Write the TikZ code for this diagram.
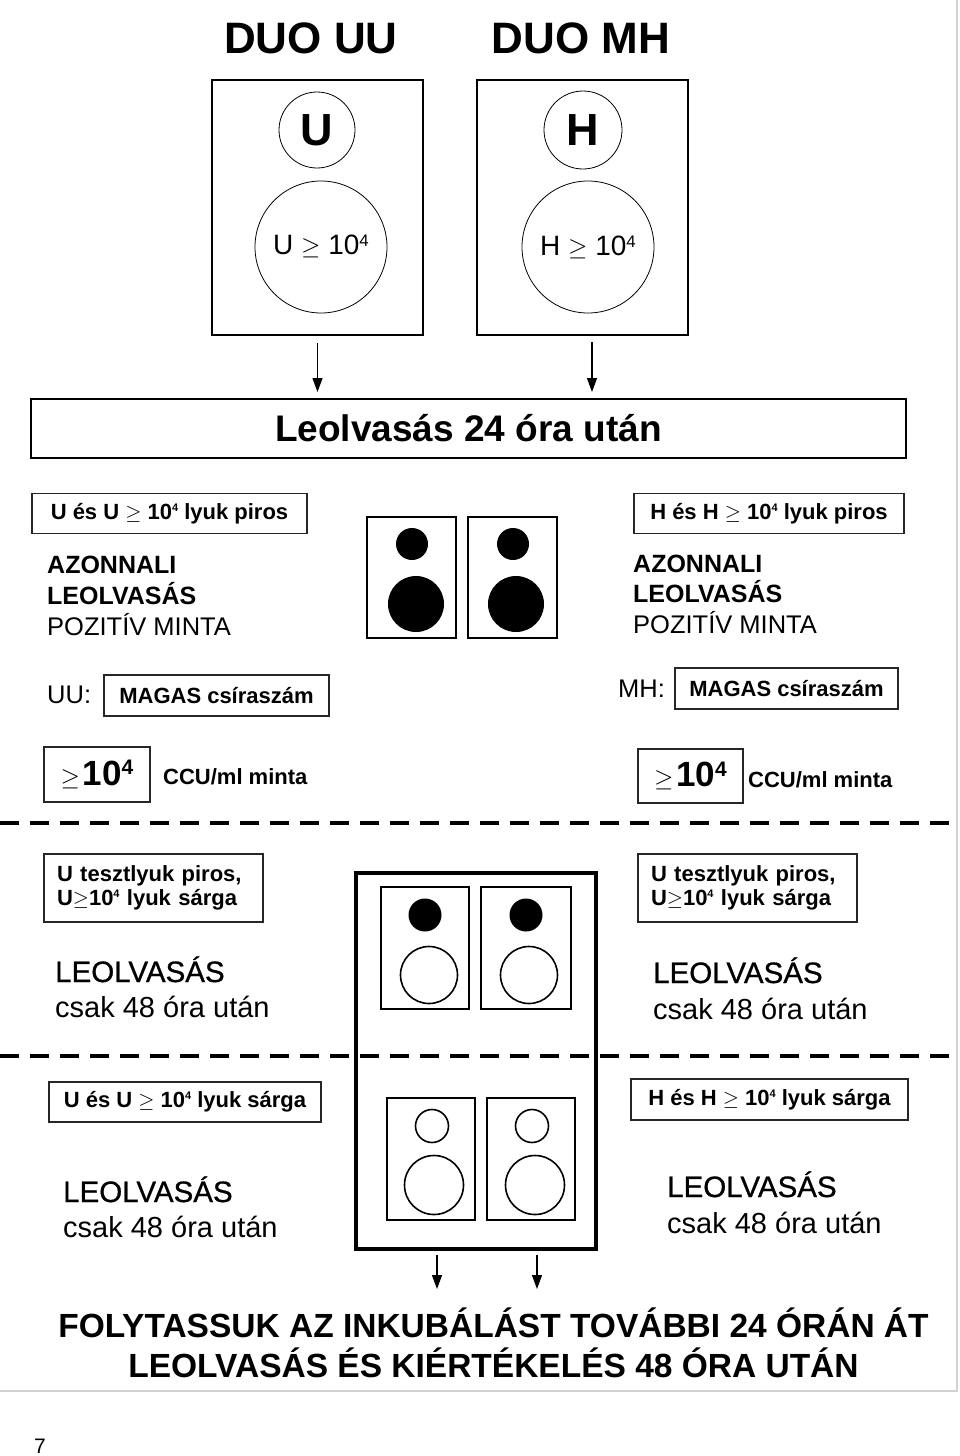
\documentclass[tikz,border=0pt]{standalone}
\usepackage{fontspec}
\setmainfont{Liberation Sans}
\newfontfamily\leofont[FakeBold=0.8]{Liberation Sans}
\usepackage{graphicx}
\usetikzlibrary{arrows.meta}
\newcommand{\fsz}[2]{\fontsize{#1}{#2}\selectfont}
\newcommand{\sps}[1]{\raisebox{0.36em}{\scalebox{0.5}{#1}}}
\newcommand{\spm}[1]{\raisebox{0.29em}{\scalebox{0.6}{#1}}}
\begin{document}
\begin{tikzpicture}[x=1pt,y=-1pt,
  txt/.style={inner sep=0pt, anchor=base west},
  lblbox/.style={draw=black!85, line width=1.3pt, inner sep=0pt, align=left, font=\bfseries\fsz{22}{24}},
  twobox/.style={draw=black!85, line width=1.3pt, inner xsep=13pt, inner ysep=0pt, text width=193pt, minimum height=68pt, align=left, font=\bfseries\fsz{22}{24}},
  topbox/.style={draw, line width=2pt, minimum width=211pt, minimum height=255pt, inner sep=0pt},
  spk/.style={draw, line width=2pt, minimum width=89pt, minimum height=121pt, inner sep=0pt},
  spkdot/.style={circle, fill=black, inner sep=0pt, minimum size=#1},
  spkring/.style={circle, draw, line width=1.6pt, inner sep=0pt, minimum size=#1},
  thinring/.style={circle, draw, line width=0.8pt, inner sep=0pt, minimum size=#1},
  arr/.style={line width=1.2pt, -{Triangle[length=14pt,width=10pt]}},
  dashline/.style={line width=4pt, dash pattern=on 19pt off 11pt},
  big/.style={font=\fsz{29}{29}},
  bigh/.style={font=\leofont\fsz{29.5}{29.5}},
  gebox/.style={draw=black!85, line width=1.3pt, inner sep=0pt},
]
\useasboundingbox (0,0) rectangle (960,1456);
% page frame
\draw[black!18, line width=2pt] (957,0) -- (957,1391) -- (0,1391);

% titles
\node[font=\bfseries\fsz{44}{44}, inner sep=0pt] (t1) at (311,38) {DUO UU};
\node[font=\bfseries\fsz{44}{44}, inner sep=0pt] (t2) at (581,38) {DUO MH};

% top boxes
\node[topbox] (box1) at (317.5,207.5) {};
\node[topbox] (box2) at (582.5,207.5) {};
\node[thinring=76pt, font=\bfseries\fsz{45}{45}] (cU) at (317,130) {U};
\node[thinring=132pt, font=\fsz{28}{28}] (cU2) at (321,247) {\raisebox{4pt}{U~$\geq$~10\spm{4}}};
\node[thinring=78pt, font=\bfseries\fsz{45}{45}] (cH) at (583,130) {H};
\node[thinring=132pt, font=\fsz{28}{28}] (cH2) at (588,247) {H~$\geq$~10\spm{4}};

% reading box
\node[draw, line width=2pt, minimum width=875pt, minimum height=59pt, inner sep=0pt, font=\bfseries\fsz{37}{37}] (read) at (468.5,428.5) {Leolvasás 24 óra után};
\coordinate (a2) at (592,335);
\draw[arr, shorten <=7pt, shorten >=6pt] (box1.south) -- (box1.south |- read.north);
\draw[arr, shorten <=7pt, shorten >=6pt] (a2) -- (a2 |- read.north);

% row 2 left
\node[lblbox, minimum width=275pt, minimum height=40pt] (lp) at (169.5,513.5) {U és U $\geq$ 10\sps{4} lyuk piros};
\node[txt, font=\bfseries\fsz{25}{25}] (la1) at (47,573) {AZONNALI};
\node[txt, font=\bfseries\fsz{25}{25}] (la2) at (47,604) {LEOLVASÁS};
\node[txt, font=\fsz{25.5}{25.5}] (la3) at (47,635) {POZITÍV MINTA};
\node[txt, font=\fsz{25.5}{25.5}] (luu) at (47,703) {UU:};
\node[lblbox, minimum width=225pt, minimum height=41pt] (lm) at (216.5,695.5) {MAGAS csíraszám};
\node[gebox, minimum width=106pt, minimum height=55pt] (lg) at (97,774.5) {{\fsz{26}{26}$\geq$}\;\textbf{\fsz{35}{35}10\spm{4}}};
\node[txt, font=\bfseries\fsz{22}{22}] (lc) at (163,784) {CCU/ml minta};

% row 2 speakers
\node[spk] (s1) at (411.5,577.5) {};
\node[spk] (s2) at (512.5,577.5) {};
\node[spkdot=32pt] (s1a) at (412,544) {};
\node[spkdot=56pt] (s1b) at (416,604) {};
\node[spkdot=32pt] (s2a) at (513,544) {};
\node[spkdot=56pt] (s2b) at (516,604) {};

% row 2 right
\node[lblbox, minimum width=270pt, minimum height=40pt] (rp) at (769,513.5) {H és H $\geq$ 10\sps{4} lyuk piros};
\node[txt, font=\bfseries\fsz{25}{25}] (ra1) at (633,572) {AZONNALI};
\node[txt, font=\bfseries\fsz{25}{25}] (ra2) at (633,602) {LEOLVASÁS};
\node[txt, font=\fsz{25.5}{25.5}] (ra3) at (633,633) {POZITÍV MINTA};
\node[txt, font=\fsz{25.5}{25.5}] (rmh) at (618,697) {MH:};
\node[lblbox, minimum width=223pt, minimum height=41pt] (rm) at (786.5,688.5) {MAGAS csíraszám};
\node[gebox, minimum width=105pt, minimum height=54pt] (rg) at (690.5,776) {{\fsz{26}{26}$\geq$}\;\textbf{\fsz{35}{35}10\spm{4}}};
\node[txt, font=\bfseries\fsz{22}{22}] (rc) at (748,787) {CCU/ml minta};

% dashed separator 1
\draw[dashline] (0,823) -- (960,823);

% big box with speakers
\node[draw, line width=4pt, minimum width=240pt, minimum height=376pt, inner sep=0pt] (bigbox) at (476,1061) {};
\node[spk, minimum width=88pt, minimum height=122pt] (sa) at (425,948) {};
\node[spk, minimum width=90pt, minimum height=122pt] (sb) at (526,948) {};
\node[spk, minimum width=88pt, minimum height=122pt] (sc) at (431,1159) {};
\node[spk, minimum width=88pt, minimum height=122pt] (sd) at (531,1159) {};
\node[spkdot=33pt] (saa) at (425,915) {};
\node[spkring=57pt] (sab) at (429,975) {};
\node[spkdot=33pt] (sba) at (526,915) {};
\node[spkring=57pt] (sbb) at (529,975) {};
\node[spkring=33pt] (sca) at (432,1126) {};
\node[spkring=59pt] (scb) at (434,1185) {};
\node[spkring=33pt] (sda) at (532,1126) {};
\node[spkring=59pt] (sdb) at (535,1185) {};

% dashed separator 2
\draw[dashline] (0,1056) -- (960,1056);

% row 3
\node[twobox] (l3) at (153.5,888) {U tesztlyuk piros,\\U$\geq$10\sps{4} lyuk sárga};
\node[txt, bigh] (l3a) at (55,982) {LEOLVASÁS};
\node[txt, big] (l3b) at (55,1017) {csak 48 óra után};
\node[twobox] (r3) at (747.5,888) {U tesztlyuk piros,\\U$\geq$10\sps{4} lyuk sárga};
\node[txt, bigh] (r3a) at (653,983) {LEOLVASÁS};
\node[txt, big] (r3b) at (653,1019) {csak 48 óra után};

% row 4
\node[lblbox, minimum width=272pt, minimum height=40pt] (l4) at (185,1102) {U és U $\geq$ 10\sps{4} lyuk sárga};
\node[txt, bigh] (l4a) at (63,1202) {LEOLVASÁS};
\node[txt, big] (l4b) at (63,1237) {csak 48 óra után};
\node[lblbox, minimum width=277pt, minimum height=41pt] (r4) at (769.5,1099.5) {H és H $\geq$ 10\sps{4} lyuk sárga};
\node[txt, bigh] (r4a) at (667,1197) {LEOLVASÁS};
\node[txt, big] (r4b) at (667,1233) {csak 48 óra után};

% bottom arrows and text
\coordinate (b1s) at (437,1255);
\coordinate (b1e) at (437,1289);
\coordinate (b2s) at (537,1255);
\coordinate (b2e) at (537,1289);
\draw[arr] (b1s) -- (b1e);
\draw[arr] (b2s) -- (b2e);
\node[align=center, inner sep=0pt, font=\bfseries\fsz{33.5}{40}] (fin) at (493.5,1343) {FOLYTASSUK AZ INKUBÁLÁST TOVÁBBI 24 ÓRÁN ÁT\\LEOLVASÁS ÉS KIÉRTÉKELÉS 48 ÓRA UTÁN};

\node[txt, anchor=base, font=\fsz{21}{21}] (pg) at (40,1453) {7};
\end{tikzpicture}
\end{document}
